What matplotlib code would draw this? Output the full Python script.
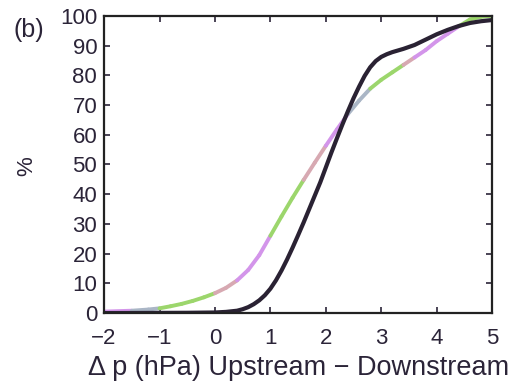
import numpy as np
import matplotlib
matplotlib.use('Agg')
import matplotlib.pyplot as plt
from matplotlib.collections import LineCollection

plt.rcParams['font.family'] = ['Liberation Sans', 'DejaVu Sans']

# black curve
black_x = [-2, -0.5, 0, 0.2, 0.4, 0.5, 0.6, 0.7, 0.8, 0.9, 1.0, 1.1, 1.2, 1.3, 1.4,
           1.5, 1.6, 1.7, 1.8, 1.9, 2.0, 2.1, 2.2, 2.3, 2.4, 2.5, 2.6, 2.7, 2.8,
           2.9, 3.0, 3.1, 3.2, 3.4, 3.6, 3.8, 4.0, 4.2, 4.4, 4.6, 4.8, 5.0]
black_y = [0, 0.1, 0.2, 0.4, 0.8, 1.3, 2, 3, 4.3, 6, 8.2, 11, 14.3, 18, 22,
           26.2, 30.5, 35, 39.5, 44, 49, 54, 58.8, 63.5, 68, 72.3, 76.2, 79.8, 82.7,
           84.8, 86.2, 87.1, 87.8, 88.9, 90.2, 92, 93.8, 95.3, 96.6, 97.6, 98.2, 98.6]

# pastel (green / violet) curve
pastel_x = [-2, -1.5, -1.2, -1.0, -0.8, -0.6, -0.4, -0.2, 0, 0.2, 0.4, 0.6, 0.8,
            1.0, 1.2, 1.4, 1.6, 1.8, 2.0, 2.2, 2.4, 2.6, 2.8, 3.0, 3.2, 3.4, 3.6,
            3.8, 4.0, 4.2, 4.4, 4.6, 4.8, 5.0]
pastel_y = [0.5, 0.8, 1.2, 1.6, 2.3, 3.1, 4.1, 5.3, 6.7, 8.5, 11, 14.5, 19.5,
            26, 32.5, 38.8, 44.8, 50.6, 56.3, 61.8, 67, 71.5, 75.5, 78.5, 81, 83.5, 86,
            88.5, 91.5, 94, 96.5, 98.8, 99.7, 100]

xticks = [-2, -1, 0, 1, 2, 3, 4, 5]
yticks = list(range(0, 101, 10))

green = '#9cd66c'
violet = '#d395ea'
grey = '#aab6c6'
pink = '#d7a9b2'
# colour bands along the pastel line (start x, colour)
bands = [(-2, violet), (-1.4, grey), (-1.0, green), (0.1, pink), (0.35, violet),
         (0.95, grey), (1.1, green), (1.7, pink), (2.0, violet), (2.5, grey),
         (2.9, green), (3.5, pink), (3.7, violet), (4.5, green)]

ink = '#2b2438'

fig = plt.figure(figsize=(5.23, 3.87), dpi=100)
ax = fig.add_axes([0.199, 0.191, 0.742, 0.768])

pts = np.column_stack([pastel_x, pastel_y])
segs = np.stack([pts[:-1], pts[1:]], axis=1)
seg_colors = []
for mid in (pts[:-1, 0] + pts[1:, 0]) / 2:
    c = bands[0][1]
    for start, col in bands:
        if mid >= start:
            c = col
    seg_colors.append(c)
lc = LineCollection(segs, colors=seg_colors, linewidths=2.8, capstyle='round',
                    joinstyle='round')
ax.add_collection(lc)

ax.plot(black_x, black_y, color='#2a2233', lw=3.0, solid_capstyle='round',
        solid_joinstyle='round')

ax.set_xlim(-2, 5)
ax.set_ylim(0, 100)
ax.set_xticks(xticks)
ax.set_yticks(yticks)
ax.set_xticklabels([str(t).replace('-', '\u2212') for t in xticks])
ax.tick_params(direction='in', length=4, width=1.2, top=True, right=True,
               labelsize=16, colors=ink, pad=5)
ax.tick_params(axis='x', pad=11)
for s in ax.spines.values():
    s.set_linewidth(1.6)
    s.set_color('#222222')

ax.set_xlabel('\u0394 p (hPa) Upstream \u2212 Downstream', fontsize=19.5, color=ink,
              labelpad=4)
fig.text(0.052, 0.57, '%', fontsize=16, color=ink, rotation=90,
         ha='center', va='center')
fig.text(0.026, 0.905, '(b)', fontsize=18, color=ink)

fig.savefig('out.png', dpi=100)
